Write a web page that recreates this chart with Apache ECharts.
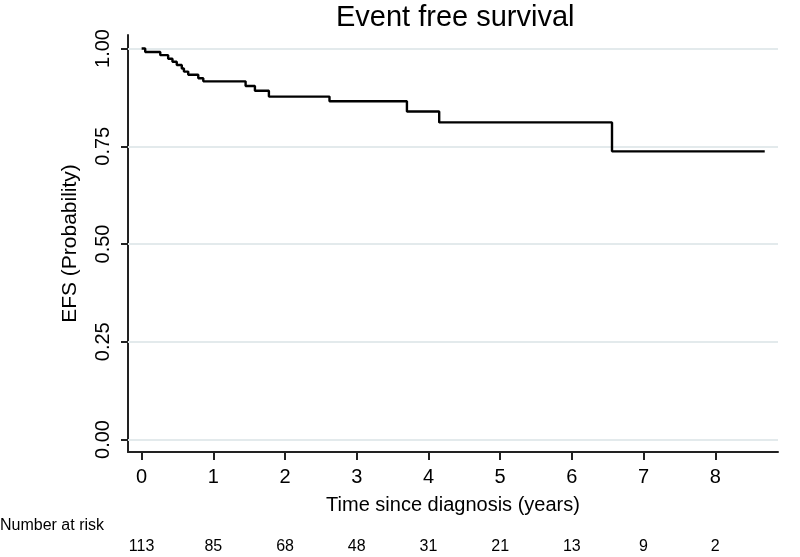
<!DOCTYPE html>
<html>
<head>
<meta charset="utf-8">
<script src="https://cdn.jsdelivr.net/npm/echarts@6/dist/echarts.min.js"></script>
<style>html,body{margin:0;padding:0;background:#fff}#c{width:800px;height:557px}</style>
</head>
<body>
<div id="c"></div>
<script>
// Kaplan-Meier step points: time (years) and survival after the event
const times = [0, 0.05, 0.26, 0.37, 0.43, 0.49, 0.56, 0.59, 0.65, 0.79, 0.86, 1.45, 1.58, 1.775, 2.62, 3.70, 4.15, 6.56, 8.69];
const surv  = [1.0, 0.991, 0.983, 0.974, 0.966, 0.958, 0.949, 0.941, 0.933, 0.924, 0.916, 0.904, 0.892, 0.877, 0.865, 0.839, 0.811, 0.737, 0.737];
const xTicks = [0, 1, 2, 3, 4, 5, 6, 7, 8];
const yTicks = [0, 0.25, 0.5, 0.75, 1];
const atRisk = [113, 85, 68, 48, 31, 21, 13, 9, 2];

const FONT = 'Liberation Sans, Arial, sans-serif';
const chart = echarts.init(document.getElementById('c'), null, {renderer: 'canvas'});
const data = times.map((t, i) => [t, surv[i]]);

chart.setOption({
  animation: false,
  backgroundColor: '#fff',
  textStyle: {fontFamily: FONT, color: '#000'},
  title: [
    {text: 'Event free survival', left: 331, top: -2,
     textStyle: {fontFamily: FONT, fontSize: 29, fontWeight: 'normal', color: '#000'}},
    {text: 'Number at risk', left: -5, top: 513,
     textStyle: {fontFamily: FONT, fontSize: 16, fontWeight: 'normal', color: '#000'}}
  ],
  grid: {left: 128, right: 22, top: 35, bottom: 105, containLabel: false},
  xAxis: [
    {
      type: 'value', min: -0.19, max: 8.875,
      name: 'Time since diagnosis (years)', nameLocation: 'middle', nameGap: 43,
      nameTextStyle: {fontFamily: FONT, fontSize: 20, color: '#000'},
      axisLine: {show: true, onZero: false, lineStyle: {color: '#222', width: 2}},
      axisTick: {show: true, length: 8, customValues: xTicks, lineStyle: {color: '#222', width: 2}},
      axisLabel: {customValues: xTicks, fontFamily: FONT, fontSize: 20, color: '#000', margin: 15},
      splitLine: {show: false}
    },
    {
      type: 'value', min: -0.19, max: 8.875, position: 'bottom', offset: 80,
      axisLine: {show: false}, axisTick: {show: false}, splitLine: {show: false},
      axisLabel: {customValues: xTicks, fontFamily: FONT, fontSize: 16, color: '#000', margin: 7,
        formatter: v => { const i = xTicks.indexOf(Math.round(v)); return i >= 0 ? String(atRisk[i]) : ''; }}
    }
  ],
  yAxis: {
    type: 'value', min: -0.032, max: 1.0346,
    name: 'EFS (Probability)', nameLocation: 'middle', nameGap: 47,
    nameTextStyle: {fontFamily: FONT, fontSize: 21, color: '#000'},
    axisLine: {show: true, onZero: false, lineStyle: {color: '#222', width: 2}},
    axisTick: {show: true, length: 7, customValues: yTicks, lineStyle: {color: '#222', width: 2}},
    axisLabel: {customValues: yTicks, rotate: 90, fontFamily: FONT, fontSize: 20, color: '#000', margin: 15,
      formatter: v => v.toFixed(2)},
    splitLine: {show: false}
  },
  series: [
    {
      type: 'line', step: 'end', data: data, showSymbol: false, symbol: 'none',
      lineStyle: {color: '#000', width: 2.4}, z: 5,
      markLine: {
        silent: true, symbol: 'none', label: {show: false},
        lineStyle: {color: '#e3eaec', width: 2, type: 'solid'},
        data: yTicks.map(v => ({yAxis: v}))
      }
    }
  ]
});
</script>
</body>
</html>
